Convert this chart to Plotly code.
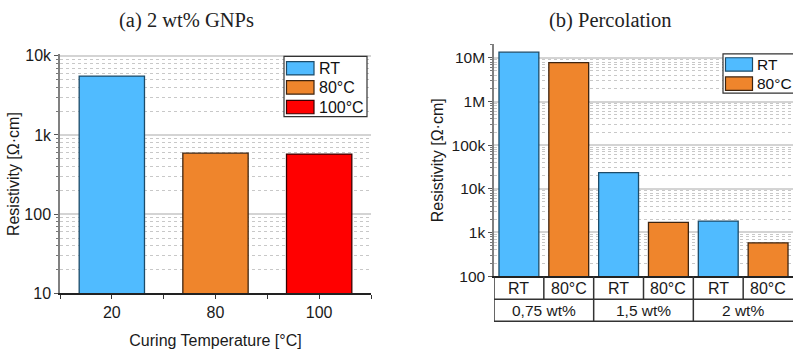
import plotly.graph_objects as go

W, H = 793, 357

# ---------------- data ----------------
# (a) 2 wt% GNPs
temp_categories = ["20", "80", "100"]
temp_series = ["RT", "80°C", "100°C"]
temp_resistivity = [5550, 590, 575]

# (b) Percolation
loadings = ["0,75 wt%", "1,5 wt%", "2 wt%"]
cure_series = ["RT", "80°C"]
rt_resistivity = [13.5e6, 23500, 1830]
c80_resistivity = [7.8e6, 1700, 580]

left_ytickvals = [10, 100, 1000, 10000]
left_yticktext = ["10", "100", "1k", "10k"]
right_ytickvals = [100, 1e3, 1e4, 1e5, 1e6, 1e7]
right_yticktext = ["100", "1k", "10k", "100k", "1M", "10M"]

# ---------------- style ----------------
BLUE, BLUE_L = "#50bbff", "#1d4b68"
ORANGE, ORANGE_L = "#ef852c", "#3d2410"
RED, RED_L = "#ff0000", "#3a0000"
fills = [BLUE, ORANGE, RED]
lines = [BLUE_L, ORANGE_L, RED_L]
SANS = "Liberation Sans, Arial, Helvetica, sans-serif"
SERIF = "Liberation Serif, Times New Roman, serif"
TXT = "#1a1a1a"


def px(x):
    return x / W


def py(y):
    return 1 - y / H


def minor_vals(lo, hi):
    out = []
    for d in range(lo, hi):
        for m in range(2, 10):
            out.append(m * 10 ** d)
    return out


fig = go.Figure()

# (a) bars
fig.add_trace(go.Bar(
    x=list(range(len(temp_categories))), y=temp_resistivity,
    width=0.63,
    marker=dict(color=fills, line=dict(color=lines, width=1.3)),
    xaxis="x", yaxis="y", showlegend=False,
))

# (b) bars
rt_x = [2 * i for i in range(len(loadings))]
c80_x = [2 * i + 1 for i in range(len(loadings))]
fig.add_trace(go.Bar(
    x=rt_x, y=rt_resistivity, width=0.8,
    marker=dict(color=BLUE, line=dict(color=BLUE_L, width=1.3)),
    xaxis="x2", yaxis="y2", showlegend=False,
))
fig.add_trace(go.Bar(
    x=c80_x, y=c80_resistivity, width=0.8,
    marker=dict(color=ORANGE, line=dict(color=ORANGE_L, width=1.3)),
    xaxis="x2", yaxis="y2", showlegend=False,
))

grid_major = dict(showgrid=True, gridcolor="#d4d4d4", gridwidth=1.5)

fig.update_layout(
    width=W, height=H,
    margin=dict(l=0, r=0, t=0, b=0),
    paper_bgcolor="white", plot_bgcolor="white",
    barmode="overlay",
    font=dict(family=SANS, color=TXT, size=15),
    xaxis=dict(
        domain=[px(60), px(371)], range=[-0.5, 2.5],
        tickmode="array", tickvals=list(range(len(temp_categories))),
        ticktext=temp_categories,
        ticks="outside", ticklen=4, tickcolor="#333",
        minor=dict(tickmode="array", tickvals=[-0.5, 0.5, 1.5, 2.5],
                   ticks="outside", ticklen=4, tickcolor="#333"),
        showline=True, linecolor="#222", linewidth=1.5,
        showgrid=False, zeroline=False,
        tickfont=dict(size=16),
        title=dict(text="Curing Temperature [°C]", font=dict(size=16), standoff=14),
        anchor="y",
    ),
    yaxis=dict(
        domain=[py(300), py(50)], type="log", range=[1, 4.024],
        tickmode="array", tickvals=left_ytickvals, ticktext=left_yticktext,
        ticks="outside", ticklen=4, tickcolor="#555",
        minor=dict(tickmode="array", tickvals=minor_vals(1, 4),
                   ticks="outside", ticklen=2, tickcolor="#777",
                   showgrid=True, gridcolor="#c8c8c8", griddash="dot", gridwidth=1),
        showline=True, linecolor="#808080", linewidth=1.5,
        zeroline=False, tickfont=dict(size=16),
        anchor="x", **grid_major,
    ),
    xaxis2=dict(
        domain=[px(494), 1.0], range=[-0.5, 5.5],
        showticklabels=False, ticks="",
        showline=True, linecolor="#222", linewidth=1.5,
        showgrid=False, zeroline=False, anchor="y2",
    ),
    yaxis2=dict(
        domain=[py(282), py(40)], type="log", range=[2, 7.31],
        tickmode="array", tickvals=right_ytickvals, ticktext=right_yticktext,
        ticks="outside", ticklen=4, tickcolor="#555",
        minor=dict(tickmode="array", tickvals=minor_vals(2, 8),
                   ticks="outside", ticklen=2, tickcolor="#777",
                   showgrid=True, gridcolor="#c8c8c8", griddash="dot", gridwidth=1),
        showline=True, linecolor="#808080", linewidth=1.5,
        zeroline=False, tickfont=dict(size=15.5),
        anchor="x2", **grid_major,
    ),
)

annotations = []
shapes = []


def note(text, x, y, xref="paper", size=16, family=SANS, color=TXT, xanchor="center", angle=0):
    annotations.append(dict(text=text, x=x, y=y, xref=xref, yref="paper",
                            xanchor=xanchor, yanchor="middle", textangle=angle,
                            showarrow=False, font=dict(family=family, size=size, color=color)))


# titles
note("(a) 2 wt% GNPs", px(186.5), py(15), size=20.5, family=SERIF, color="#222")
note("(b) Percolation", px(609.5), py(15), size=20.5, family=SERIF, color="#222")

# y titles
note("Resistivity [Ω·cm]", px(13.5), py(176), size=16, angle=-90)
note("Resistivity [Ω·cm]", px(437), py(161), size=16, angle=-90)

# right category table
LC = "#333"
row1_y, row2_y = 306, 329
sub_labels = []
for g in loadings:
    sub_labels += cure_series
for i, lab in enumerate(sub_labels):
    note(lab, i, py((282 + row1_y) / 2 + 0.5), xref="x2", size=16)
for j, g in enumerate(loadings):
    note(g, 2 * j + 0.5, py((row1_y + row2_y) / 2 + 0.5), xref="x2", size=15.5)
for b in [-0.5, 0.5, 1.5, 2.5, 3.5, 4.5]:
    full = (b == -0.5) or (int(b + 0.5) % 2 == 0)
    shapes.append(dict(type="line", xref="x2", yref="paper", x0=b, x1=b,
                       y0=py(282), y1=py(row2_y if full else row1_y),
                       line=dict(color=LC, width=1.5)))
for yy in [row1_y, row2_y]:
    shapes.append(dict(type="line", xref="x2", yref="paper", x0=-0.5, x1=5.6,
                       y0=py(yy), y1=py(yy), line=dict(color=LC, width=1.5)))


# legends (drawn manually)
def legend(box, items, sw_x, sw_w, sw_h, ys, text_x, size):
    x0, y0, x1, y1 = box
    shapes.append(dict(type="rect", xref="paper", yref="paper", x0=px(x0), x1=px(x1),
                       y0=py(y1), y1=py(y0), fillcolor="white", line=dict(color="#333", width=1.2),
                       layer="above"))
    for (name, fc, lc), yc in zip(items, ys):
        shapes.append(dict(type="rect", xref="paper", yref="paper", x0=px(sw_x), x1=px(sw_x + sw_w),
                           y0=py(yc + sw_h / 2), y1=py(yc - sw_h / 2), fillcolor=fc,
                           line=dict(color=lc, width=1.2), layer="above"))
        note(name, px(text_x), py(yc), size=size, color="#111", xanchor="left")


legend((284, 52.5, 367, 115.5),
       list(zip(temp_series, fills, lines)), 286.5, 27.5, 14, [65, 85, 105.5], 317, 16)
legend((723, 50, 800, 91),
       list(zip(cure_series, [BLUE, ORANGE], [BLUE_L, ORANGE_L])), 725.5, 27, 14, [61, 81], 755, 15.5)

fig.update_layout(annotations=annotations, shapes=shapes)
fig.write_html("out.html")
